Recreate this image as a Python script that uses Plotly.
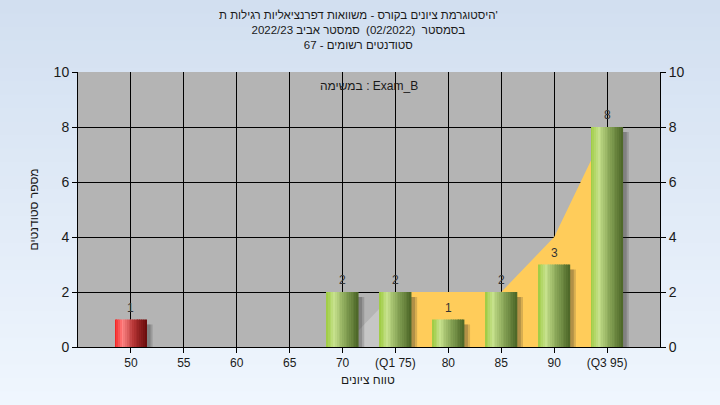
import plotly.graph_objects as go

# ---- data ----
categories = [50, 55, 60, 65, 70, 75, 80, 85, 90, 95]
tick_labels = ["50", "55", "60", "65", "70", "(Q1 75)", "80", "85", "90", "(Q3 95)"]
counts = [1, 0, 0, 0, 2, 2, 1, 2, 3, 8]
curve_values = [0, 0, 0, 0, 0, 2, 2, 2, 4, 8]
y_ticks = [0, 2, 4, 6, 8, 10]

title_lines = [
    "היסטוגרמת ציונים בקורס - משוואות דפרנציאליות רגילות ת'",
    "בסמסטר  (02/2022)  סמסטר אביב 2022/23",
    "סטודנטים רשומים - 67",
]
legend_text = "במשימה : Exam_B"
x_title = "טווח ציונים"
y_title = "מספר סטודנטים"

FONT = "Liberation Sans, DejaVu Sans, Arial, sans-serif"
TXT = "#1a1a1a"

# ---- helpers ----
def hex2rgb(h):
    h = h.lstrip("#")
    return tuple(int(h[i:i + 2], 16) for i in (0, 2, 4))

def interp(stops, t):
    for (p0, c0), (p1, c1) in zip(stops, stops[1:]):
        if p0 <= t <= p1:
            f = (t - p0) / (p1 - p0) if p1 > p0 else 0
            a, b = hex2rgb(c0), hex2rgb(c1)
            return "rgb(%d,%d,%d)" % tuple(round(a[k] + (b[k] - a[k]) * f) for k in range(3))
    return stops[-1][1]

green_stops = [(0, "#9ccb3e"), (0.25, "#c6e18c"), (0.55, "#8eab5c"), (1.0, "#4b6526")]
red_stops = [(0, "#f21a1a"), (0.25, "#ff8585"), (0.6, "#b43434"), (1.0, "#680a0a")]

fig = go.Figure()

# area curve (main subplot, beneath the bars): grey segment then orange segment
fig.add_trace(go.Scatter(
    x=categories[4:6], y=curve_values[4:6], mode="lines", line=dict(width=0),
    fill="tozeroy", fillcolor="#c6c6c6", hoverinfo="skip", showlegend=False))
fig.add_trace(go.Scatter(
    x=categories[5:], y=curve_values[5:], mode="lines", line=dict(width=0),
    fill="tozeroy", fillcolor="#ffcc5a", hoverinfo="skip", showlegend=False))

bx = [c for c, v in zip(categories, counts) if v > 0]
bv = [v for v in counts if v > 0]
is_red = [c == 50 for c in bx]

W = 3.0
# shadows (overlay subplot y3, drawn above the area)
for off, alpha in [(0.55, 0.18), (0.35, 0.22)]:
    fig.add_trace(go.Bar(
        x=bx, y=bv, base=-0.18, width=W, offset=-W / 2 + off, yaxis="y3",
        marker=dict(color="rgba(40,40,40,%.2f)" % alpha, line=dict(width=0)),
        hoverinfo="skip", showlegend=False))

# gradient strips
N = 18
sw = W / N
for i in range(N):
    t = (i + 0.5) / N
    cols = [interp(red_stops, t) if r else interp(green_stops, t) for r in is_red]
    fig.add_trace(go.Bar(
        x=bx, y=bv, width=sw * 1.08, offset=-W / 2 + i * sw, yaxis="y3",
        marker=dict(color=cols, line=dict(width=0)),
        hoverinfo="skip", showlegend=False))

# trace for right axis
fig.add_trace(go.Scatter(x=categories, y=counts, yaxis="y2", mode="markers",
                         marker=dict(opacity=0), hoverinfo="skip", showlegend=False))

# background gradient (paper coords)
L, R, T, B = 78, 60, 72, 58
H, Wd = 405, 720
ph = H - T - B
pw = Wd - L - R
top_c, bot_c = "#d2dff0", "#eff6fe"
nb = 30
shapes = []
y_top = 1 + T / ph
y_bot = -B / ph
for k in range(nb):
    y0 = y_bot + (y_top - y_bot) * k / nb
    y1 = y_bot + (y_top - y_bot) * (k + 1) / nb + 0.01
    c = interp([(0, bot_c), (1, top_c)], (k + 0.5) / nb)
    shapes.append(dict(type="rect", xref="paper", yref="paper", x0=-L / pw - 0.01,
                       x1=1 + R / pw + 0.01, y0=y0, y1=y1, fillcolor=c,
                       line=dict(width=0), layer="below"))
shapes.append(dict(type="rect", xref="paper", yref="paper", x0=0, x1=1, y0=0, y1=1,
                   fillcolor="#b4b4b4", line=dict(width=0), layer="below"))

annotations = []
# value labels above bars
for c, v in zip(bx, bv):
    annotations.append(dict(text=str(v), x=c, y=v, xref="x", yref="y",
                            yanchor="middle", yshift=12, showarrow=False,
                            font=dict(family=FONT, size=12, color="#333333")))
# title block (one text, three lines)
annotations.append(dict(text="<br>".join(title_lines), xref="paper", yref="paper",
                        x=(358 - L) / pw, y=(H - B - 30) / ph,
                        xanchor="center", yanchor="middle", align="center",
                        showarrow=False,
                        font=dict(family=FONT, size=11.5, color=TXT)))
annotations.append(dict(text=legend_text, xref="paper", yref="paper",
                        x=0.5, y=(H - B - 86) / ph, xanchor="center", yanchor="middle",
                        showarrow=False, font=dict(family=FONT, size=12, color=TXT)))
annotations.append(dict(text=x_title, xref="paper", yref="paper",
                        x=(368 - L) / pw, y=(H - B - 380) / ph, xanchor="center",
                        yanchor="middle", showarrow=False,
                        font=dict(family=FONT, size=12, color=TXT)))
annotations.append(dict(text=y_title, xref="paper", yref="paper",
                        x=(33 - L) / pw, y=0.5, xanchor="center", yanchor="middle",
                        textangle=-90, showarrow=False,
                        font=dict(family=FONT, size=12, color=TXT)))

axis_common = dict(showline=True, linecolor="black", linewidth=1, ticks="outside",
                   ticklen=5, tickcolor="black", zeroline=False)

fig.update_layout(
    width=720, height=405,
    margin=dict(l=L, r=R, t=T, b=B, pad=0),
    paper_bgcolor="#e2ebf7", plot_bgcolor="rgba(0,0,0,0)",
    barmode="overlay", showlegend=False,
    shapes=shapes, annotations=annotations,
    xaxis=dict(range=[45, 100], tickvals=categories, ticktext=tick_labels,
               showgrid=True, gridcolor="black", gridwidth=1,
               tickfont=dict(family=FONT, size=12, color=TXT), **axis_common),
    yaxis=dict(range=[0, 10], tickvals=y_ticks, showgrid=True, gridcolor="black",
               gridwidth=1, tickfont=dict(family=FONT, size=14, color=TXT), **axis_common),
    yaxis2=dict(range=[0, 10], tickvals=y_ticks, overlaying="y", side="right",
                showgrid=False, tickfont=dict(family=FONT, size=14, color=TXT),
                **axis_common),
    yaxis3=dict(range=[0, 10], overlaying="y", visible=False, showgrid=False),
)

fig.write_html("out.html", config={"displayModeBar": False},
               post_script="document.body.style.margin='0px';")
